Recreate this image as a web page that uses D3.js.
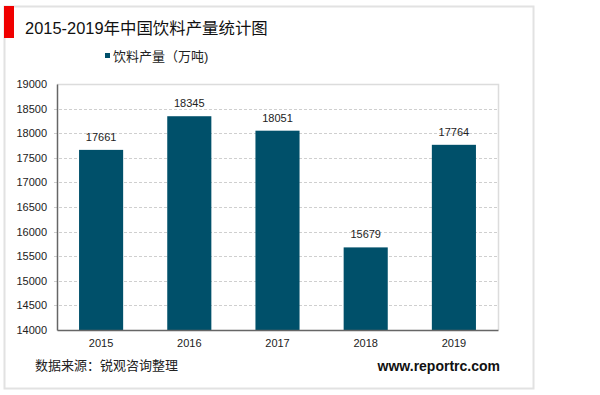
<!DOCTYPE html>
<html>
<head>
<meta charset="utf-8">
<script src="https://cdn.jsdelivr.net/npm/d3@7"></script>
<style>
  body { margin: 0; background: #fff; }
  svg { display: block; font-family: Arial, "Liberation Sans", "Noto Sans CJK SC", sans-serif; }
</style>
</head>
<body>
<script>
'use strict';
// chart data
const years = ["2015", "2016", "2017", "2018", "2019"];
const output = [17661, 18345, 18051, 15679, 17764];
const yTicks = [14000, 14500, 15000, 15500, 16000, 16500, 17000, 17500, 18000, 18500, 19000];
const titleText = "2015-2019年中国饮料产量统计图";
const legendText = "饮料产量（万吨)";
const sourceText = "数据来源：锐观咨询整理";
const siteText = "www.reportrc.com";

(function() {
  const barColor = "#00506a";
  const svg = d3.select("body").append("svg")
    .attr("width", 600)
    .attr("height", 395);

  // outer frame
  svg.append("rect")
    .attr("x", 4.5).attr("y", 6.5)
    .attr("width", 529).attr("height", 382)
    .attr("fill", "#fff")
    .attr("stroke", "#e2e2e2")
    .attr("stroke-width", 2);

  // red marker + title
  svg.append("rect")
    .attr("x", 4).attr("y", 6)
    .attr("width", 10).attr("height", 32)
    .attr("fill", "#f00000");
  const title = svg.append("text")
    .attr("x", 25).attr("y", 34)
    .style("font-size", "19px")
    .attr("fill", "#111")
    .text(titleText);
  // fit the title to the width it has in the picture
  let tw = title.node().getComputedTextLength();
  if (tw > 0) {
    title.style("font-size", Math.min(20, 19 * 243 / tw) + "px");
  }

  // legend
  svg.append("rect")
    .attr("x", 105).attr("y", 53)
    .attr("width", 5).attr("height", 5)
    .attr("fill", barColor);
  svg.append("text")
    .attr("x", 113).attr("y", 61)
    .style("font-size", "13px")
    .attr("fill", "#222")
    .text(legendText);

  // scales
  const left = 57, right = 498, top = 84, bottom = 330;
  const x = d3.scaleBand().domain(years).range([left, right])
    .paddingInner(0.5).paddingOuter(0.25);
  const y = d3.scaleLinear().domain([14000, 19000]).range([bottom, top]);

  // plot border (top/right)
  svg.append("path")
    .attr("d", `M${left},${top + 0.5}H${right + 0.5}V${bottom}`)
    .attr("fill", "none")
    .attr("stroke", "#dcdcdc")
    .attr("stroke-width", 1.5);

  // dashed gridlines
  svg.append("g")
    .selectAll("line")
    .data(yTicks.filter(d => d > 14000 && d < 19000))
    .enter().append("line")
      .attr("x1", left - 3).attr("x2", right)
      .attr("y1", d => Math.round(y(d)) + 0.5)
      .attr("y2", d => Math.round(y(d)) + 0.5)
      .attr("stroke", "#cfcfcf")
      .attr("stroke-dasharray", "3,2");

  // bars
  svg.append("g")
    .selectAll("rect")
    .data(output)
    .enter().append("rect")
      .attr("x", (d, i) => x(years[i]))
      .attr("y", d => y(d))
      .attr("width", x.bandwidth())
      .attr("height", d => bottom - y(d))
      .attr("fill", barColor);

  // value labels
  svg.append("g")
    .selectAll("text")
    .data(output)
    .enter().append("text")
      .attr("x", (d, i) => x(years[i]) + x.bandwidth() / 2)
      .attr("y", d => y(d) - 9)
      .attr("text-anchor", "middle")
      .style("font-size", "11px")
      .attr("fill", "#222")
      .text(d => d);

  // y axis
  const yAxis = d3.axisLeft(y).tickValues(yTicks).tickFormat(d3.format("d"))
    .tickSize(0).tickPadding(10);
  const gy = svg.append("g")
    .attr("transform", `translate(${left},0)`)
    .call(yAxis);
  gy.select(".domain").attr("stroke", "#666").attr("stroke-width", 1.5);
  gy.selectAll("text").style("font-size", "11px").attr("fill", "#222")
    .style("font-family", "Arial, 'Liberation Sans', sans-serif");

  // x axis
  const xAxis = d3.axisBottom(x).tickSize(0).tickPadding(9);
  const gx = svg.append("g")
    .attr("transform", `translate(0,${bottom})`)
    .call(xAxis);
  gx.select(".domain").attr("stroke", "#666").attr("stroke-width", 1.5);
  gx.selectAll("text").style("font-size", "11px").attr("fill", "#222")
    .style("font-family", "Arial, 'Liberation Sans', sans-serif");

  // footer
  svg.append("text")
    .attr("x", 35).attr("y", 370)
    .style("font-size", "13px")
    .attr("fill", "#222")
    .text(sourceText);
  svg.append("text")
    .attr("x", 500).attr("y", 371)
    .attr("text-anchor", "end")
    .style("font-size", "14px")
    .style("font-weight", "bold")
    .attr("fill", "#111")
    .text(siteText);
})();
</script>
</body>
</html>
